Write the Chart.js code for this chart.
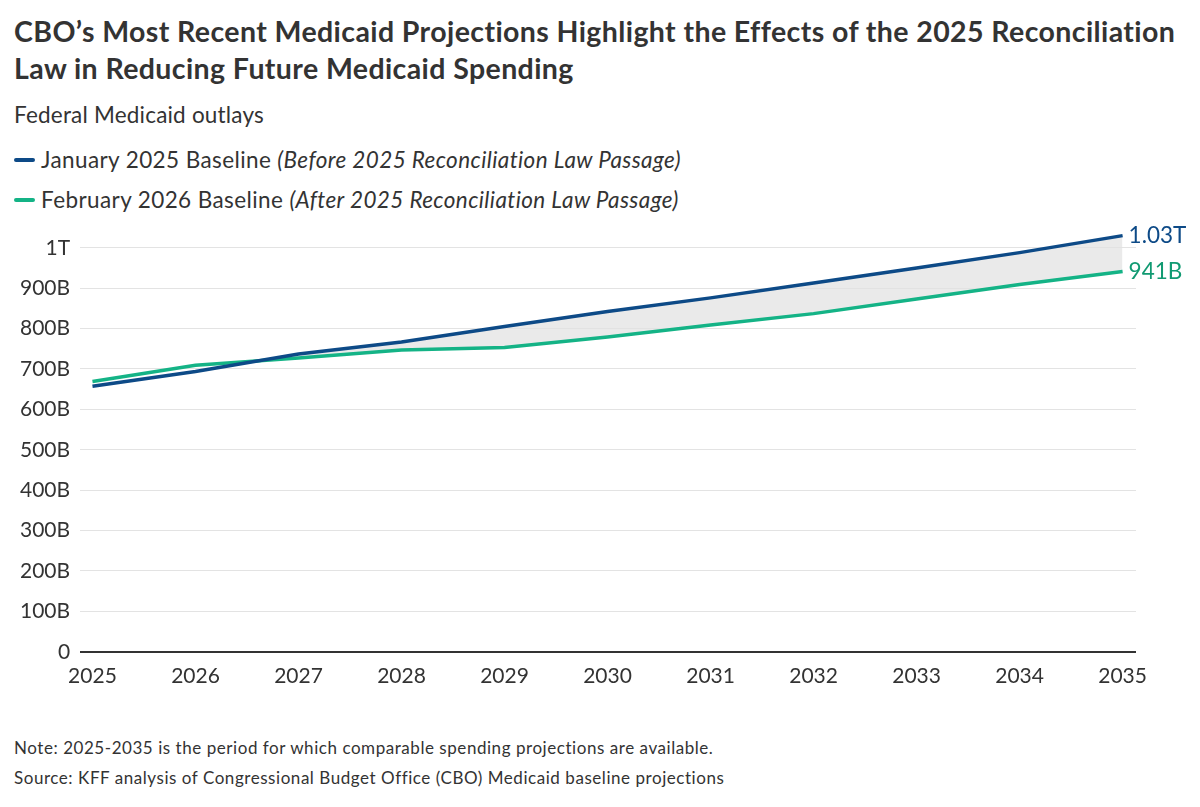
<!DOCTYPE html>
<html>
<head>
<meta charset="utf-8">
<script src="https://cdn.jsdelivr.net/npm/chart.js@4"></script>
<style>
  body { margin: 0; background: #fff; font-family: Lato, "Noto Sans", sans-serif; color: #333; }
  .wrap { position: relative; width: 1200px; height: 807px; }
  h1 { position: absolute; left: 14px; top: 13px; margin: 0; font-size: 28.5px; line-height: 37px; font-weight: 700; color: #333; white-space: nowrap; letter-spacing: 0.4px; }
  .sub { position: absolute; left: 14px; top: 101px; font-size: 22.5px; color: #333; letter-spacing: 0.2px; }
  .leg { position: absolute; left: 14px; font-size: 22.5px; color: #333; white-space: nowrap; letter-spacing: 0.4px; }
  .leg i.dash { display: inline-block; width: 21px; height: 4px; border-radius: 2px; vertical-align: middle; margin-right: 6px; position: relative; top: -2px; }
  .leg em { font-style: italic; }
  .note { position: absolute; left: 14px; font-size: 17px; color: #333; letter-spacing: 0.55px; }
  #chartBox { position: absolute; left: 0; top: 209px; width: 1200px; height: 492px; }
</style>
</head>
<body>
<div class="wrap">
  <h1>CBO’s Most Recent Medicaid Projections Highlight the Effects of the 2025 Reconciliation<br>Law in Reducing Future Medicaid Spending</h1>
  <div class="sub">Federal Medicaid outlays</div>
  <div class="leg" style="top:146px"><i class="dash" style="background:#0d4a87"></i>January 2025 Baseline <em>(Before 2025 Reconciliation Law Passage)</em></div>
  <div class="leg" style="top:186px"><i class="dash" style="background:#14b386"></i>February 2026 Baseline <em>(After 2025 Reconciliation Law Passage)</em></div>
  <div id="chartBox"><canvas id="medicaid-chart" width="1200" height="492"></canvas></div>
  <div class="note" style="top:737px">Note: 2025-2035 is the period for which comparable spending projections are available.</div>
  <div class="note" style="top:767px">Source: KFF analysis of Congressional Budget Office (CBO) Medicaid baseline projections</div>
</div>
<script>
// federal Medicaid outlays, billions of dollars
const years = [2025, 2026, 2027, 2028, 2029, 2030, 2031, 2032, 2033, 2034, 2035];
const jan2025 = [657, 694, 737, 767, 805, 842, 876, 913, 950, 988, 1030];
const feb2026 = [669, 709, 727, 747, 753, 779, 809, 837, 873, 909, 941];
const endLabels = ['1.03T', '941B'];
const yTicks = [0, 100, 200, 300, 400, 500, 600, 700, 800, 900, 1000];

const blue = '#0d4a87';
const green = '#14b386';

const toPoints = arr => arr.map((v, i) => ({ x: years[i], y: v }));

const fmtB = v => v === 0 ? '0' : (v >= 1000 ? (v / 1000) + 'T' : v + 'B');

// label at the last point of each line
const endLabelPlugin = {
  id: 'endLabels',
  afterDatasetsDraw(chart) {
    const ctx = chart.ctx;
    ctx.save();
    ctx.font = '22.5px Lato, "Noto Sans", sans-serif';
    ctx.textBaseline = 'middle';
    ctx.textAlign = 'left';
    chart.data.datasets.forEach((ds, i) => {
      const meta = chart.getDatasetMeta(i);
      const pt = meta.data[meta.data.length - 1];
      ctx.fillStyle = i === 0 ? blue : '#119a72';
      ctx.fillText(endLabels[i], pt.x + 6, pt.y);
    });
    ctx.restore();
  }
};

const config = {
  type: 'line',
  data: {
    datasets: [
      {
        label: 'January 2025 Baseline',
        data: toPoints(jan2025),
        borderColor: blue,
        borderWidth: 3.5,
        pointRadius: 0,
        tension: 0,
        clip: false,
        fill: { target: 1, above: 'rgba(225,225,225,0.7)', below: 'rgba(0,0,0,0)' }
      },
      {
        label: 'February 2026 Baseline',
        data: toPoints(feb2026),
        borderColor: green,
        borderWidth: 3.5,
        pointRadius: 0,
        tension: 0,
        clip: false,
        fill: false
      }
    ]
  },
  options: {
    responsive: false,
    animation: false,
    layout: { padding: { left: 10, right: 64, top: 7, bottom: 0 } },
    plugins: {
      legend: { display: false },
      tooltip: { enabled: false },
      filler: { drawTime: 'beforeDatasetsDraw' }
    },
    scales: {
      x: {
        type: 'linear',
        min: 2024.88,
        max: 2035.13,
        afterBuildTicks: axis => { axis.ticks = years.map(v => ({ value: v })); },
        grid: { display: false, drawTicks: false },
        border: { display: false },
        ticks: {
          color: '#333',
          font: { family: 'Lato, "Noto Sans", sans-serif', size: 21 },
          padding: 12,
          maxRotation: 0,
          autoSkip: false,
          callback: v => String(v)
        }
      },
      y: {
        min: 0,
        max: 1040,
        afterBuildTicks: axis => { axis.ticks = yTicks.map(v => ({ value: v })); },
        grid: {
          color: ctx => ctx.tick && ctx.tick.value === 0 ? '#333' : '#e3e3e3',
          lineWidth: ctx => ctx.tick && ctx.tick.value === 0 ? 2 : 1,
          drawTicks: false
        },
        border: { display: false },
        ticks: {
          color: '#333',
          font: { family: 'Lato, "Noto Sans", sans-serif', size: 21 },
          padding: 10,
          callback: v => fmtB(v)
        }
      }
    }
  },
  plugins: [endLabelPlugin]
};

const medicaidChart = new Chart(document.getElementById('medicaid-chart'), config);
</script>
</body>
</html>
